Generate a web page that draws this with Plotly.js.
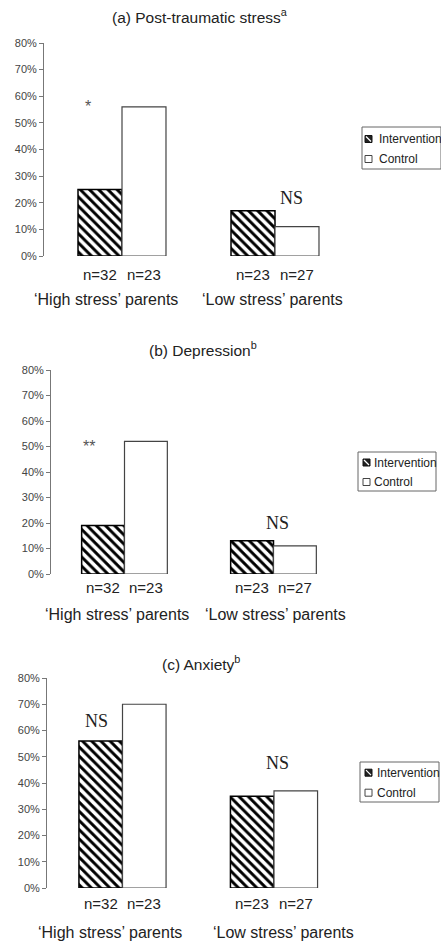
<!DOCTYPE html>
<html>
<head>
<meta charset="utf-8">
<script src="https://cdn.plot.ly/plotly-3.0.1.min.js"></script>
<style>html,body{margin:0;padding:0;background:#fff;}#chart{width:441px;height:941px;}</style>
</head>
<body>
<div id="chart"></div>
<script>
// ---- data ----
const categories = ['High', 'Low'];
const groupLabels = ['\u2018High stress\u2019 parents', '\u2018Low stress\u2019 parents'];
const seriesNames = ['Intervention', 'Control'];
const panelTitles = ['(a) Post-traumatic stress<sup>a</sup>', '(b) Depression<sup>b</sup>', '(c) Anxiety<sup>b</sup>'];
const ptsIntervention = [25, 17];
const ptsControl = [56, 11];
const depIntervention = [19, 13];
const depControl = [52, 11];
const anxIntervention = [56, 35];
const anxControl = [70, 37];
const nIntervention = [32, 23];
const nControl = [23, 27];
const ptsSig = ['*', 'NS'];
const depSig = ['**', 'NS'];
const anxSig = ['NS', 'NS'];
const yTickVals = [0, 10, 20, 30, 40, 50, 60, 70, 80];
const yTickText = ['0%', '10%', '20%', '30%', '40%', '50%', '60%', '70%', '80%'];

// ---- layout geometry (pixels) ----
const W = 441, H = 941;
const X = p => p / W;
const Y = p => 1 - p / H;
const BARGAP = 0.425;
const panels = [
  {top: 43, bottom: 256, axisX: 44, c0: 122, c1: 275, titleX: 200, titleY: 16, nY: 274, gY: 300, gX: [106, 272.5],
   sigPos: [[88, 106], [291, 198]], legend: {x0: 362, x1: 441, y0: 127, y1: 169, tx: 377, ty: [139, 159], sx: 365}},
  {top: 370, bottom: 574, axisX: 51, c0: 124.5, c1: 273.5, titleX: 202.5, titleY: 349, nY: 587, gY: 614, gX: [117.5, 275.5],
   sigPos: [[89, 447], [277, 523]], legend: {x0: 358, x1: 436, y0: 452, y1: 491, tx: 372, ty: [462.5, 482], sx: 363}},
  {top: 678, bottom: 888, axisX: 47, c0: 122.5, c1: 274, titleX: 200.5, titleY: 663, nY: 903, gY: 932, gX: [110, 283],
   sigPos: [[96, 721], [277, 763]], legend: {x0: 360, x1: 439, y0: 762, y1: 802, tx: 375, ty: [772.7, 792.7], sx: 365}}
];
const interventionData = [ptsIntervention, depIntervention, anxIntervention];
const controlData = [ptsControl, depControl, anxControl];
const sigData = [ptsSig, depSig, anxSig];

const FONT = 'Liberation Sans, Arial, sans-serif';
const SERIF = 'Liberation Serif, Times New Roman, serif';
const TXT = '#222';

const traces = [];
const annotations = [];
const shapes = [];
const layout = {
  width: W, height: H,
  margin: {l: 0, r: 0, t: 0, b: 0},
  paper_bgcolor: '#fff', plot_bgcolor: 'rgba(0,0,0,0)',
  barmode: 'group', bargap: BARGAP, bargroupgap: 0,
  showlegend: false,
  font: {family: FONT, color: TXT}
};

const off = (1 - BARGAP) / 4;

panels.forEach((p, i) => {
  const k = i === 0 ? '' : String(i + 1);
  const unit = p.c1 - p.c0;
  layout['xaxis' + k] = {
    domain: [X(p.axisX), X(350)],
    range: [(p.axisX - p.c0) / unit, (350 - p.c0) / unit],
    type: 'category', categoryarray: categories,
    visible: false,
    anchor: 'y' + k, fixedrange: true
  };
  layout['yaxis' + k] = {
    domain: [Y(p.bottom), Y(p.top)],
    range: [0, 80],
    tickmode: 'array', tickvals: yTickVals, ticktext: yTickText,
    showline: true, linecolor: '#777', linewidth: 1,
    ticks: 'outside', ticklen: 4, tickcolor: '#777', tickwidth: 1,
    tickfont: {family: FONT, size: 11, color: '#444'},
    showgrid: false, zeroline: false,
    anchor: 'x' + k, fixedrange: true
  };
  traces.push({
    type: 'bar', name: seriesNames[0], x: categories, y: interventionData[i],
    xaxis: 'x' + k, yaxis: 'y' + k,
    marker: {color: 'white', pattern: {shape: '\\', fgcolor: 'black', bgcolor: 'white', size: 6.5, solidity: 0.45},
             line: {color: 'black', width: 1.5}},
    hoverinfo: 'skip'
  });
  traces.push({
    type: 'bar', name: seriesNames[1], x: categories, y: controlData[i],
    xaxis: 'x' + k, yaxis: 'y' + k,
    marker: {color: 'white', line: {color: '#444', width: 1.2}},
    hoverinfo: 'skip'
  });

  annotations.push({text: panelTitles[i], xref: 'paper', yref: 'paper', x: X(p.titleX), y: Y(p.titleY),
    xanchor: 'center', yanchor: 'middle', showarrow: false, font: {family: FONT, size: 15.5, color: TXT}});

  categories.forEach((c, j) => {
    annotations.push({text: 'n=' + nIntervention[j], xref: 'x' + k, yref: 'paper', x: j - off, y: Y(p.nY),
      xanchor: 'center', yanchor: 'middle', showarrow: false, font: {family: FONT, size: 15, color: TXT}});
    annotations.push({text: 'n=' + nControl[j], xref: 'x' + k, yref: 'paper', x: j + off, y: Y(p.nY),
      xanchor: 'center', yanchor: 'middle', showarrow: false, font: {family: FONT, size: 15, color: TXT}});
    annotations.push({text: groupLabels[j], xref: 'paper', yref: 'paper', x: X(p.gX[j]), y: Y(p.gY),
      xanchor: 'center', yanchor: 'middle', showarrow: false, font: {family: FONT, size: 16, color: TXT}});
    const s = sigData[i][j];
    const isNS = s === 'NS';
    annotations.push({text: s, xref: 'paper', yref: 'paper', x: X(p.sigPos[j][0]), y: Y(p.sigPos[j][1]),
      xanchor: 'center', yanchor: 'middle', showarrow: false,
      font: isNS ? {family: SERIF, size: 18, color: TXT} : {family: FONT, size: 16, color: '#555'}});
  });

  // legend (drawn manually)
  const L = p.legend;
  shapes.push({type: 'rect', xref: 'paper', yref: 'paper', x0: X(L.x0), x1: X(L.x1), y0: Y(L.y1), y1: Y(L.y0),
    line: {color: '#666', width: 1}, fillcolor: 'rgba(0,0,0,0)'});
  shapes.push({type: 'rect', xref: 'paper', yref: 'paper', x0: X(L.sx), x1: X(L.sx + 7), y0: Y(L.ty[0] + 3.5), y1: Y(L.ty[0] - 3.5),
    line: {color: '#111', width: 1}, fillcolor: '#222'});
  shapes.push({type: 'line', xref: 'paper', yref: 'paper', x0: X(L.sx + 1), x1: X(L.sx + 6), y0: Y(L.ty[0] - 2.5), y1: Y(L.ty[0] + 2.5),
    line: {color: '#fff', width: 1.2}});
  shapes.push({type: 'rect', xref: 'paper', yref: 'paper', x0: X(L.sx), x1: X(L.sx + 7), y0: Y(L.ty[1] + 3.5), y1: Y(L.ty[1] - 3.5),
    line: {color: '#444', width: 1}, fillcolor: '#fff'});
  seriesNames.forEach((nm, j) => {
    annotations.push({text: nm, xref: 'paper', yref: 'paper', x: X(L.tx), y: Y(L.ty[j]),
      xanchor: 'left', yanchor: 'middle', showarrow: false, font: {family: FONT, size: 12, color: TXT}});
  });
});

layout.annotations = annotations;
layout.shapes = shapes;

Plotly.newPlot('chart', traces, layout, {displayModeBar: false, staticPlot: true});
</script>
</body>
</html>
